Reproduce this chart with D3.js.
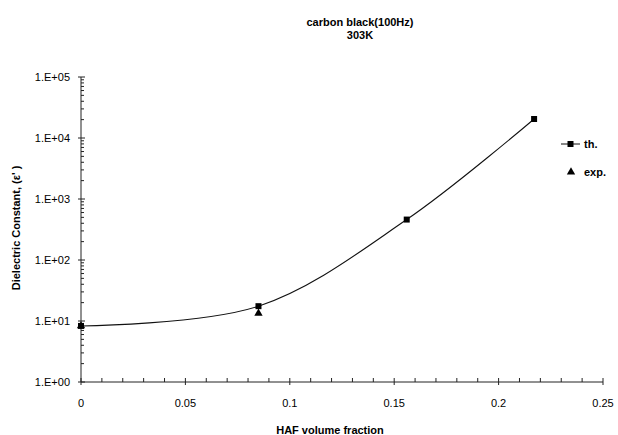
<!DOCTYPE html>
<html>
<head>
<meta charset="utf-8">
<script src="https://cdn.jsdelivr.net/npm/d3@7"></script>
<style>
  body { margin: 0; background: #fff; }
  text { font-family: Arial, "Liberation Sans", sans-serif; fill: #000; }
</style>
</head>
<body>
<svg></svg>
<script>
/* DATA */
const thX = [0, 0.085, 0.156, 0.217]
const thY = [8.3, 17.5, 460, 20500]
const expX = [0, 0.085]
const expY = [8.3, 13.4]
const xTicks = [0, 0.05, 0.1, 0.15, 0.2, 0.25]
const yTicks = [1, 10, 100, 1000, 10000, 100000]
const yTickLabels = ['1.E+00', '1.E+01', '1.E+02', '1.E+03', '1.E+04', '1.E+05']
const legendNames = ['th.', 'exp.']

const W = 618, H = 435

const svg = d3.select('svg')
  .attr('width', W)
  .attr('height', H)

/* SCALES */
const xScale = d3.scaleLinear()
  .domain([0, 0.25])
  .range([81, 603])

const yScale = d3.scaleLog()
  .domain([1, 100000])
  .range([382, 77])

/* TITLE */
svg.append('text')
  .attr('x', 360).attr('y', 26)
  .attr('text-anchor', 'middle')
  .style('font-size', '11px').style('font-weight', 'bold')
  .text('carbon black(100Hz)')
svg.append('text')
  .attr('x', 360).attr('y', 39)
  .attr('text-anchor', 'middle')
  .style('font-size', '11px').style('font-weight', 'bold')
  .text('303K')

/* X AXIS */
const minorX = d3.range(0, 26).map(i => i / 100)
const gx = svg.append('g')
gx.append('line')
  .attr('x1', xScale(0)).attr('x2', xScale(0.25))
  .attr('y1', yScale(1)).attr('y2', yScale(1))
  .attr('stroke', '#222')
gx.selectAll('.minor')
  .data(minorX)
  .enter().append('line')
  .attr('x1', d => xScale(d)).attr('x2', d => xScale(d))
  .attr('y1', yScale(1)).attr('y2', yScale(1) - 4)
  .attr('stroke', '#222')
gx.selectAll('.major')
  .data(xTicks)
  .enter().append('line')
  .attr('x1', d => xScale(d)).attr('x2', d => xScale(d))
  .attr('y1', yScale(1)).attr('y2', yScale(1) + 3)
  .attr('stroke', '#222')
gx.selectAll('text')
  .data(xTicks)
  .enter().append('text')
  .attr('x', d => xScale(d))
  .attr('y', yScale(1) + 25)
  .attr('text-anchor', 'middle')
  .style('font-size', '11px')
  .text(d => d)

svg.append('text')
  .attr('x', 330).attr('y', 434)
  .attr('text-anchor', 'middle')
  .style('font-size', '11px').style('font-weight', 'bold')
  .text('HAF volume fraction')

/* Y AXIS */
const minorY = []
for (let e = 0; e < 5; e++) {
  for (let m = 2; m < 10; m++) minorY.push(m * Math.pow(10, e))
}
const gy = svg.append('g')
gy.append('line')
  .attr('x1', xScale(0)).attr('x2', xScale(0))
  .attr('y1', yScale(1)).attr('y2', yScale(100000))
  .attr('stroke', '#222')
gy.selectAll('.minor')
  .data(minorY)
  .enter().append('line')
  .attr('x1', xScale(0)).attr('x2', xScale(0) + 3)
  .attr('y1', d => yScale(d)).attr('y2', d => yScale(d))
  .attr('stroke', '#222')
gy.selectAll('.major')
  .data(yTicks)
  .enter().append('line')
  .attr('x1', xScale(0) - 3).attr('x2', xScale(0) + 4)
  .attr('y1', d => yScale(d)).attr('y2', d => yScale(d))
  .attr('stroke', '#222')
gy.selectAll('text')
  .data(yTicks)
  .enter().append('text')
  .attr('x', xScale(0) - 11)
  .attr('y', d => yScale(d) + 4)
  .attr('text-anchor', 'end')
  .style('font-size', '11px')
  .text((d, i) => yTickLabels[i])

svg.append('text')
  .attr('transform', 'translate(20, 228) rotate(-90)')
  .attr('text-anchor', 'middle')
  .style('font-size', '11px').style('font-weight', 'bold')
  .text('Dielectric Constant, (\u03b5\' )')

/* TH CURVE */
const thData = thX.map((x, i) => ({ x: x, y: thY[i] }))
const expData = expX.map((x, i) => ({ x: x, y: expY[i] }))

const line = d3.line()
  .x(d => xScale(d.x))
  .y(d => yScale(d.y))
  .curve(d3.curveCatmullRom.alpha(0.5))

svg.append('path')
  .datum(thData)
  .attr('d', line)
  .attr('fill', 'none')
  .attr('stroke', '#111')
  .attr('stroke-width', 1.1)

const square = d3.symbol().type(d3.symbolSquare).size(36)
const tri = d3.symbol().type(d3.symbolTriangle).size(30)

svg.selectAll('.exp')
  .data(expData)
  .enter().append('path')
  .attr('class', 'exp')
  .attr('d', tri)
  .attr('transform', d => `translate(${xScale(d.x)}, ${yScale(d.y)})`)
  .attr('fill', '#000')

svg.selectAll('.th')
  .data(thData)
  .enter().append('path')
  .attr('class', 'th')
  .attr('d', square)
  .attr('transform', d => `translate(${xScale(d.x)}, ${yScale(d.y)})`)
  .attr('fill', '#000')

/* LEGEND */
const lg = svg.append('g')
lg.append('line')
  .attr('x1', 561).attr('x2', 580)
  .attr('y1', 144).attr('y2', 144)
  .attr('stroke', '#111')
lg.append('path')
  .attr('d', square)
  .attr('transform', 'translate(570.5, 144)')
lg.append('path')
  .attr('d', tri)
  .attr('transform', 'translate(571, 172)')
lg.selectAll('text')
  .data(legendNames)
  .enter().append('text')
  .attr('x', 584)
  .attr('y', (d, i) => 148 + i * 28)
  .style('font-size', '11px').style('font-weight', 'bold')
  .text(d => d)
</script>
</body>
</html>
